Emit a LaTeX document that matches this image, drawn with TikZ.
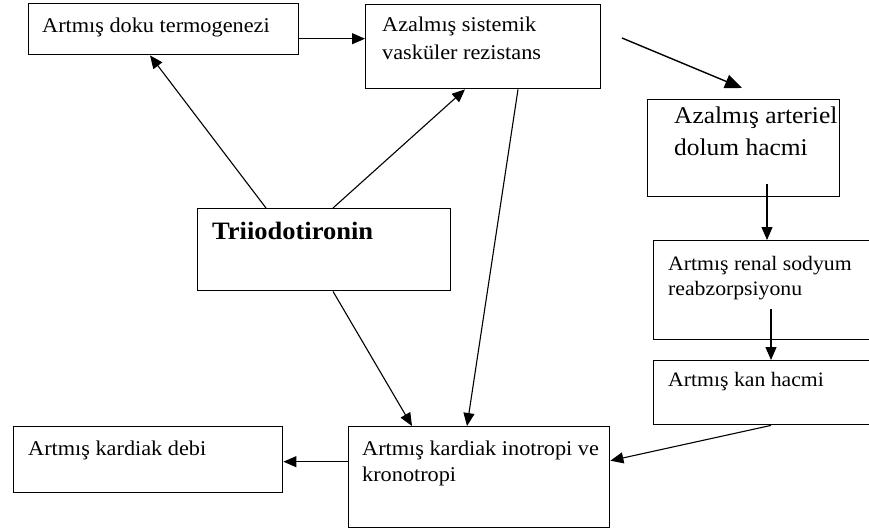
\documentclass[tikz,border=0pt]{standalone}
\usepackage{fontspec}
\setmainfont{Liberation Serif}[FakeStretch=1.06]
\usetikzlibrary{arrows.meta}
\begin{document}
\begin{tikzpicture}[x=1pt,y=-1pt,
  box/.style={draw, line width=1.4pt, inner sep=0pt, anchor=north west},
  txt/.style={anchor=base west, inner sep=0pt, align=left, font=\fontsize{21}{26}\selectfont},
  txttwo/.style={txt, font=\fontsize{21}{28}\selectfont},
  txtbig/.style={txt, font=\fontsize{24}{32}\selectfont},
  txtsm/.style={txt, font=\fontsize{20.5}{25}\selectfont},
  txtbold/.style={txt, font=\fontsize{25}{30}\selectfont\bfseries},
  arr/.style={line width=1.1pt, -{Triangle[length=13pt,width=11pt]}},
  bigarr/.style={line width=1.4pt, -{Triangle[length=17pt,width=14pt]}}
]
\useasboundingbox (0,0) rectangle (869,532);
\fill[white] (0,0) rectangle (869,532);

% boxes
\node[box, minimum width=270pt, minimum height=51pt] (b1) at (28,3) {};
\node[box, minimum width=235pt, minimum height=84pt] (b2) at (365,4) {};
\node[box, minimum width=192pt, minimum height=97pt] (b3) at (647,99) {};
\node[box, minimum width=253pt, minimum height=82pt] (b4) at (197,208) {};
\node[box, minimum width=230pt, minimum height=99pt] (b5) at (653,240) {};
\node[box, minimum width=230pt, minimum height=64pt] (b6) at (653,360) {};
\node[box, minimum width=269pt, minimum height=66pt] (b7) at (13,426) {};
\node[box, minimum width=261pt, minimum height=101pt] (b8) at (348,426) {};

% texts (anchor base = baseline of the last line)
\node[txt] (t1) at (42,33) {Artmış doku termogenezi};
\node[txttwo] (t2) at (382,60) {Azalmış sistemik\\vasküler rezistans};
\node[txtbig] (t3) at (674,155) {Azalmış arteriel\\dolum hacmi};
\node[txtbold] (t4) at (212,239) {Triiodotironin};
\node[txtsm] (t5) at (668,295) {Artmış renal sodyum\\reabzorpsiyonu};
\node[txtsm] (t6) at (668,386) {Artmış kan hacmi};
\node[txt] (t7) at (28,455) {Artmış kardiak debi};
\node[txt] (t8) at (362,481) {Artmış kardiak inotropi ve\\kronotropi};

% connectors
\draw[arr] ([yshift=-9.5pt]b1.east) -- ([yshift=-9.5pt]b1.east -| b2.west);
\draw[arr] ([xshift=69pt]b4.north west) -- ([xshift=122pt]b1.south west);
\draw[arr] ([xshift=136pt]b4.north west) -- ([xshift=100pt]b2.south west);
\draw[arr] ([xshift=136pt]b4.south west) -- ([xshift=64pt]b8.north west);
\draw[arr] ([xshift=153pt]b2.south west) -- ([xshift=119pt]b8.north west);
\coordinate (f1) at (622,38);
\coordinate (f2) at (742,88);
\draw[bigarr] (f1) -- (f2);
\draw[arr] ([xshift=120pt,yshift=13pt]b3.south west) -- ([xshift=120pt]b3.south west |- b5.north);
\draw[arr] ([xshift=118pt,yshift=31pt]b5.south west) -- ([xshift=118pt]b5.south west |- b6.north);
\draw[arr] ([xshift=118pt]b6.south west) -- ([yshift=16.5pt]b8.east);
\draw[arr] ([yshift=15.5pt]b8.west) -- ([yshift=15.5pt]b8.west -| b7.east);
\end{tikzpicture}
\end{document}
